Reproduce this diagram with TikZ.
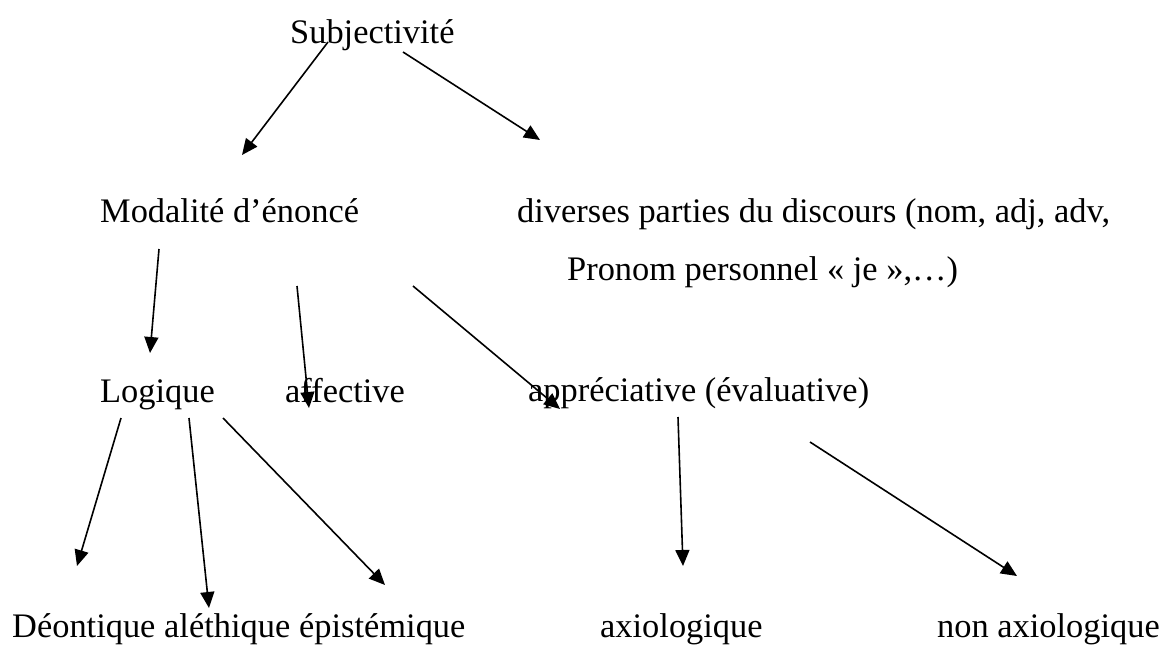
\documentclass[tikz,border=0pt]{standalone}
\usepackage{fontspec}
\setmainfont{Liberation Serif}
\usetikzlibrary{arrows.meta}
\begin{document}
\begin{tikzpicture}[x=1pt,y=-1pt,
  lbl/.style={anchor=base west, inner sep=0pt, font=\fontsize{34.4}{40}\selectfont},
  arr/.style={-{Triangle[length=16pt,width=14pt]}, line width=1.6pt}]
\useasboundingbox (0,0) rectangle (1163,646);
% labels
\node[lbl] (subj) at (290,43) {Subjectivité};
\node[lbl] (modal) at (100,222) {Modalité d’énoncé};
\node[lbl] (divers) at (517,222) {diverses parties du discours (nom, adj, adv,};
\node[lbl] (pronom) at (567,280) {Pronom personnel « je »,…)};
\node[lbl] (logique) at (100,402) {Logique};
\node[lbl] (affective) at (285,402) {affective};
\node[lbl] (apprec) at (528,401) {appréciative (évaluative)};
\node[lbl] (deont) at (12,637) {Déontique};
\node[lbl] (aleth) at (164,637) {aléthique};
\node[lbl] (epist) at (299,637) {épistémique};
\node[lbl] (axio) at (600,637) {axiologique};
\node[lbl] (nonaxio) at (937,637) {non axiologique};
% arrow end points
\coordinate (a1s) at (328,42);  \coordinate (a1e) at (242,155);
\coordinate (a2s) at (403,52);  \coordinate (a2e) at (540,140);
\coordinate (a3s) at (159,249); \coordinate (a3e) at (150,353);
\coordinate (a4s) at (297,286); \coordinate (a4e) at (309,408);
\coordinate (a5s) at (413,286); \coordinate (a5e) at (560,409);
\coordinate (a6s) at (121,418); \coordinate (a6e) at (77,566);
\coordinate (a7s) at (189,418); \coordinate (a7e) at (209,608);
\coordinate (a8s) at (223,418); \coordinate (a8e) at (385,585);
\coordinate (a9s) at (678,417); \coordinate (a9e) at (683,566);
\coordinate (a10s) at (810,442); \coordinate (a10e) at (1017,576);
% arrows
\foreach \i in {1,...,10} {\draw[arr] (a\i s) -- (a\i e);}
\end{tikzpicture}
\end{document}
